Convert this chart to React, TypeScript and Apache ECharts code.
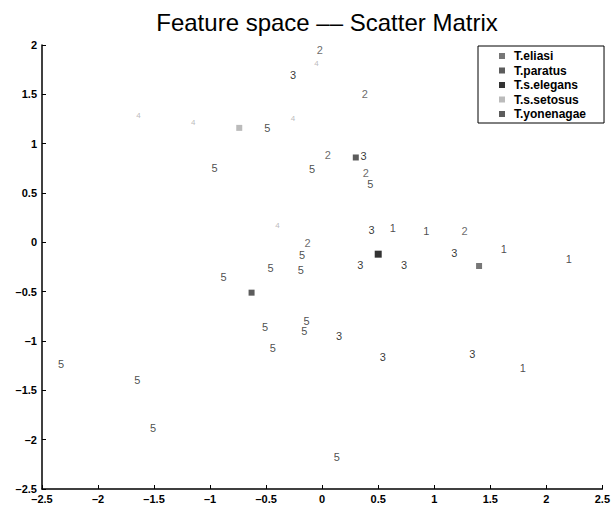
import React, { useEffect, useRef } from "react";
import * as echarts from "echarts";

// Sample points, one array per species (x, y in feature space)
const eliasiPts: number[][] = [
  [0.63, 0.15], [0.93, 0.11], [1.62, -0.07], [2.2, -0.17], [1.79, -1.27],
];
const paratusPts: number[][] = [
  [-0.02, 1.95], [0.38, 1.5], [0.05, 0.89], [0.39, 0.7], [1.27, 0.11], [-0.13, -0.01],
];
const elegansPts: number[][] = [
  [-0.26, 1.7], [0.37, 0.87], [0.44, 0.12], [0.34, -0.23], [0.73, -0.23],
  [1.18, -0.11], [0.15, -0.95], [0.54, -1.16], [1.34, -1.13],
];
const setosusPts: number[][] = [
  [-0.05, 1.81], [-1.64, 1.29], [-1.15, 1.21], [-0.26, 1.26], [-0.4, 0.17],
];
const yonenagaePts: number[][] = [
  [-0.49, 1.16], [-0.96, 0.75], [-0.09, 0.74], [0.43, 0.59], [-0.18, -0.13],
  [-0.46, -0.26], [-0.19, -0.28], [-0.88, -0.35], [-0.51, -0.86], [-0.14, -0.8],
  [-0.16, -0.9], [-0.44, -1.07], [-2.33, -1.23], [-1.65, -1.4], [-1.51, -1.88],
  [0.13, -2.18],
];

// Class means (shown with legend symbols)
const eliasiMean = [1.4, -0.24];
const paratusMean = [0.3, 0.86];
const elegansMean = [0.5, -0.12];
const setosusMean = [-0.74, 1.16];
const yonenagaeMean = [-0.63, -0.51];

const speciesNames = ["T.eliasi", "T.paratus", "T.s.elegans", "T.s.setosus", "T.yonenagae"];
const speciesDigits = ["1", "2", "3", "4", "5"];
const xTicks = { min: -2.5, max: 2.5, interval: 0.5 };
const yTicks = { min: -2.5, max: 2, interval: 0.5 };

const FONT = "'Liberation Sans', Arial, Helvetica, sans-serif";

export default function App() {
  const ref = useRef<HTMLDivElement>(null);
  useEffect(() => {
    if (!ref.current) return;
    const chart = echarts.init(ref.current, null, { renderer: "svg" });
    const pts = [eliasiPts, paratusPts, elegansPts, setosusPts, yonenagaePts];
    const means = [eliasiMean, paratusMean, elegansMean, setosusMean, yonenagaeMean];
    const digitColors = ["#1a1a1a", "#444", "#000", "#aaa", "#1a1a1a"];
    const digitSizes = [11, 11, 11, 8, 11];
    const meanColors = ["#555", "#333", "#000", "#aaa", "#333"];
    const meanSizes = [6, 6, 7, 6, 6];

    const labelSeries = pts.map((p, i) => ({
      name: "pts" + speciesDigits[i],
      type: "scatter",
      data: p,
      symbol: "circle",
      symbolSize: 1,
      itemStyle: { color: "rgba(0,0,0,0)" },
      label: {
        show: true,
        position: "inside",
        formatter: () => speciesDigits[i],
        color: digitColors[i],
        fontSize: digitSizes[i],
        fontFamily: FONT,
      },
      silent: true,
      z: 2,
    }));
    const meanSeries = means.map((m, i) => ({
      name: speciesNames[i],
      type: "scatter",
      data: [m],
      symbol: "rect",
      symbolSize: meanSizes[i],
      itemStyle: { color: meanColors[i] },
      z: 3,
    }));

    const fmt = (v: number) => String(v).replace("-", "\u2013");

    chart.setOption({
      animation: false,
      textStyle: { fontFamily: FONT },
      title: {
        text: "Feature space \u2013\u2013 Scatter Matrix",
        left: 322,
        textAlign: "center",
        top: 5,
        textStyle: { fontSize: 24, fontWeight: "normal", color: "#000", fontFamily: FONT },
      },
      legend: {
        data: speciesNames,
        orient: "vertical",
        left: 478,
        top: 46,
        padding: [4, 18, 3, 21],
        itemGap: 2.5,
        itemWidth: 6,
        itemHeight: 6,
        icon: "rect",
        borderColor: "#000",
        borderWidth: 1,
        backgroundColor: "#fff",
        textStyle: {
          fontSize: 12,
          fontWeight: "bold",
          color: "#000",
          lineHeight: 12,
          padding: [0, 0, 0, 4],
          fontFamily: FONT,
        },
      },
      grid: { left: 42, right: 10, top: 45, bottom: 22, containLabel: false },
      xAxis: {
        type: "value",
        ...xTicks,
        splitLine: { show: false },
        axisLine: { show: true, onZero: false, lineStyle: { color: "#000", width: 1.5 } },
        axisTick: { show: true, inside: true, length: 4, lineStyle: { color: "#000" } },
        axisLabel: {
          formatter: fmt,
          color: "#000",
          fontWeight: "bold",
          fontSize: 11,
          margin: 4,
          showMinLabel: true,
          showMaxLabel: true,
        },
      },
      yAxis: {
        type: "value",
        ...yTicks,
        splitLine: { show: false },
        axisLine: { show: true, onZero: false, lineStyle: { color: "#000", width: 1.5 } },
        axisTick: { show: true, inside: true, length: 4, lineStyle: { color: "#000" } },
        axisLabel: {
          formatter: fmt,
          color: "#000",
          fontWeight: "bold",
          fontSize: 11,
          margin: 5,
          showMinLabel: true,
          showMaxLabel: true,
        },
      },
      series: [...labelSeries, ...meanSeries],
    });
    return () => chart.dispose();
  }, []);
  return <div ref={ref} style={{ width: 613, height: 511, position: "absolute", left: 0, top: 0 }} />;
}
